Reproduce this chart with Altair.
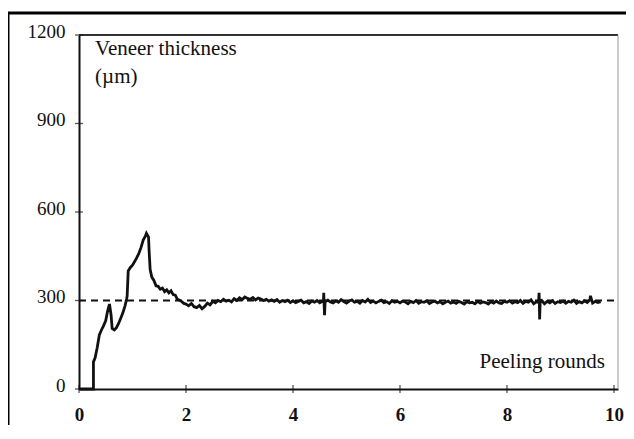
import altair as alt
import pandas as pd

# --- data ---
rise_x = [0, 0.27, 0.27, 0.30, 0.34, 0.38, 0.42, 0.46, 0.50, 0.53, 0.55, 0.57, 0.60,
          0.62, 0.66, 0.70, 0.74, 0.78, 0.82, 0.86, 0.89, 0.90, 0.92, 0.96, 1.00,
          1.04, 1.08, 1.12, 1.16, 1.20, 1.24, 1.26, 1.30, 1.31, 1.33, 1.36, 1.40,
          1.44, 1.48, 1.52, 1.56, 1.60, 1.64, 1.68, 1.72, 1.76, 1.80, 1.84, 1.88,
          1.92, 1.96]
rise_y = [0, 0, 92, 105, 140, 183, 200, 215, 232, 260, 275, 288, 250,
          205, 200, 208, 222, 240, 258, 282, 305, 315, 400, 412, 420,
          432, 445, 460, 480, 505, 518, 528, 515, 470, 405, 380, 368,
          350, 348, 338, 342, 330, 336, 326, 333, 320, 318, 304, 301,
          296, 290]

steady_x = [2.00, 2.05, 2.10, 2.15, 2.20, 2.25, 2.30, 2.35, 2.40, 2.45, 2.50, 2.55,
            2.60, 2.65, 2.70, 2.75, 2.80, 2.85, 2.90, 2.95, 3.00, 3.05, 3.10, 3.15,
            3.20, 3.25, 3.30, 3.35, 3.40, 3.45, 3.50, 3.55, 3.60, 3.65, 3.70, 3.75,
            3.80, 3.85, 3.90, 3.95, 4.00, 4.05, 4.10, 4.15, 4.20, 4.25, 4.30, 4.35,
            4.40, 4.45, 4.50, 4.55, 4.57, 4.575, 4.58, 4.59, 4.60, 4.65, 4.70, 4.75,
            4.80, 4.85, 4.90, 4.95, 5.00, 5.05, 5.10, 5.15, 5.20, 5.25, 5.30, 5.35,
            5.40, 5.45, 5.50, 5.55, 5.60, 5.65, 5.70, 5.75, 5.80, 5.85, 5.90, 5.95,
            6.00, 6.05, 6.10, 6.15, 6.20, 6.25, 6.30, 6.35, 6.40, 6.45, 6.50, 6.55,
            6.60, 6.65, 6.70, 6.75, 6.80, 6.85, 6.90, 6.95, 7.00, 7.05, 7.10, 7.15,
            7.20, 7.25, 7.30, 7.35, 7.40, 7.45, 7.50, 7.55, 7.60, 7.65, 7.70, 7.75,
            7.80, 7.85, 7.90, 7.95, 8.00, 8.05, 8.10, 8.15, 8.20, 8.25, 8.30, 8.35,
            8.40, 8.45, 8.50, 8.55, 8.59, 8.60, 8.605, 8.61, 8.62, 8.65, 8.70, 8.75,
            8.80, 8.85, 8.90, 8.95, 9.00, 9.05, 9.10, 9.15, 9.20, 9.25, 9.30, 9.35,
            9.40, 9.45, 9.50, 9.55, 9.56, 9.60, 9.65, 9.70, 9.75]
steady_y = [288, 282, 290, 279, 276, 283, 272, 280, 291, 285,
            297, 292, 300, 296, 304, 298, 301, 295, 306, 300,
            309, 303, 312, 307, 304, 310, 302, 308, 305, 300,
            304, 298, 302, 297, 303, 294, 300, 296, 301, 293,
            299, 293, 297, 301, 292, 296, 290, 298, 294, 300, 292, 297,
            299, 326, 294, 250, 296,
            301, 295, 292, 299, 294, 303, 296, 291, 298, 302,
            294, 297, 291, 300, 295, 304, 293, 298, 292, 297,
            301, 293, 296, 290, 299, 294, 297,
            292, 298, 295, 289, 297, 293, 300, 291, 296, 294,
            299, 290, 295, 298, 292, 296, 289, 294, 298, 291,
            295, 290, 297, 293, 288, 296, 292, 294, 289, 297,
            291, 295, 293, 288, 296, 291, 298, 292, 290, 297,
            294, 299, 291, 296, 293, 300, 290, 297, 294, 302,
            289, 296,
            293, 326, 291, 236, 295,
            300, 289, 297, 292, 299, 290, 296, 293, 298, 291,
            297, 294, 301, 290, 296, 292, 299, 293, 302,
            316,
            291, 297, 293, 296]

x_ticks = [0, 2, 4, 6, 8, 10]
y_ticks = [0, 300, 600, 900, 1200]
target_level = 300
target_end = 10.05

label_lines = ["Veneer thickness", "(\u00b5m)"]
label_x = [0.30, 0.30]
label_y = [1132, 1037]
xlabel_text = ["Peeling rounds"]
xlabel_x = [9.83]
xlabel_y = [71]

FONT = "Liberation Serif"
X_DOM = [0, 10.075]
Y_DOM = [0, 1200]

curve = pd.DataFrame({"x": rise_x + steady_x, "y": rise_y + steady_y})
curve["i"] = range(len(curve))

xs = alt.Scale(domain=X_DOM, nice=False, zero=False)
ys = alt.Scale(domain=Y_DOM, nice=False)

x_axis = alt.Axis(values=x_ticks, ticks=False, grid=False, domainColor="#111",
                  domainWidth=2, labelFont=FONT, labelFontSize=19, labelColor="#111",
                  labelFontWeight="bold",
                  labelPadding=16, title=None, labelFlush=False, format="d")
y_axis = alt.Axis(values=y_ticks, ticks=False, grid=False, domainColor="#111",
                  domainWidth=2, labelFont=FONT, labelFontSize=19, labelColor="#111",
                  labelPadding=14, labelOffset=-4, title=None, labelFlush=False, format="d")

line = alt.Chart(curve).mark_line(color="#111", strokeWidth=2.8).encode(
    x=alt.X("x:Q", scale=xs, axis=x_axis),
    y=alt.Y("y:Q", scale=ys, axis=y_axis),
    order="i:Q",
)

dash = alt.Chart(pd.DataFrame({"x": [0], "x2": [target_end], "y": [target_level]})).mark_rule(
    color="#111", strokeWidth=2, strokeDash=[7, 5]
).encode(x=alt.X("x:Q", scale=xs), x2="x2:Q", y=alt.Y("y:Q", scale=ys))

top_border = alt.Chart(pd.DataFrame({"bx": [X_DOM[0], X_DOM[1]], "by": [Y_DOM[1], Y_DOM[1]]})).mark_line(
    color="#333", strokeWidth=2
).encode(x=alt.X("bx:Q", scale=xs), y=alt.Y("by:Q", scale=ys))

right_border = alt.Chart(pd.DataFrame({"rx": [X_DOM[1], X_DOM[1]], "ry": [Y_DOM[0], Y_DOM[1]]})).mark_line(
    color="#999", strokeWidth=1
).encode(x=alt.X("rx:Q", scale=xs), y=alt.Y("ry:Q", scale=ys), order="ry:Q")

xt = alt.Chart(pd.DataFrame({"x": x_ticks, "y": [0] * len(x_ticks)})).mark_tick(
    orient="vertical", size=8, thickness=1.3, color="#111"
).encode(x=alt.X("x:Q", scale=xs), y=alt.Y("y:Q", scale=ys))

yt = alt.Chart(pd.DataFrame({"x": [0] * len(y_ticks), "y": y_ticks})).mark_tick(
    orient="horizontal", size=8, thickness=1.3, color="#111"
).encode(x=alt.X("x:Q", scale=xs), y=alt.Y("y:Q", scale=ys))

ylab = alt.Chart(pd.DataFrame({"t": label_lines, "x": label_x, "y": label_y})).mark_text(
    align="left", baseline="alphabetic", font=FONT, fontSize=21, color="#111"
).encode(x=alt.X("x:Q", scale=xs), y=alt.Y("y:Q", scale=ys), text="t:N")

xlab = alt.Chart(pd.DataFrame({"t": xlabel_text, "x": xlabel_x, "y": xlabel_y})).mark_text(
    align="right", baseline="alphabetic", font=FONT, fontSize=21, color="#111"
).encode(x=alt.X("x:Q", scale=xs), y=alt.Y("y:Q", scale=ys), text="t:N")

frame = alt.Chart(pd.DataFrame({"a": [0]})).mark_rect(
    fill=None, stroke="#000", strokeWidth=3
).encode(x=alt.value(-71), x2=alt.value(700), y=alt.value(-22), y2=alt.value(600))

chart = alt.layer(dash, line, top_border, right_border, xt, yt, ylab, xlab, frame).properties(
    width=539, height=354,
    autosize=alt.AutoSizeParams(type="none"),
    padding={"left": 71, "top": 27, "right": 8, "bottom": 36},
).configure(background="white", view=alt.ViewConfig(stroke="transparent"))

chart.save("out.html", embed_options={"renderer": "svg", "actions": False})
